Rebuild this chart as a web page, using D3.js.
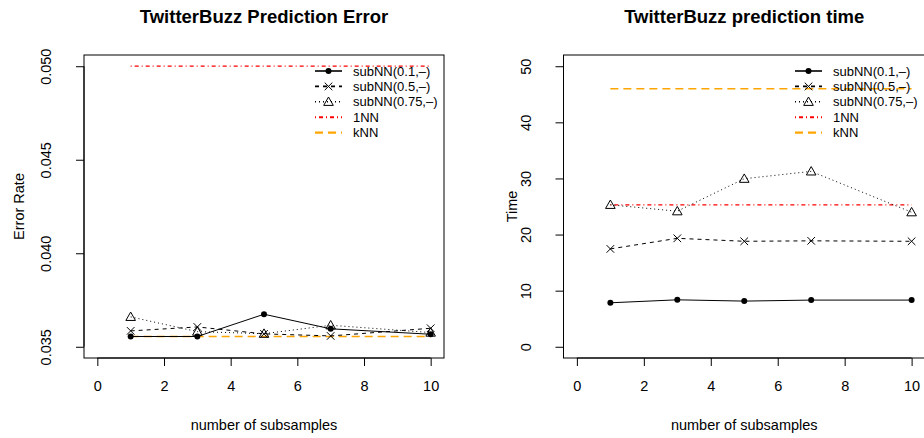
<!DOCTYPE html>
<html>
<head>
<meta charset="utf-8">
<script src="https://cdn.jsdelivr.net/npm/d3@7"></script>
<style>
  body { margin: 0; background: #fff; }
  text { font-family: "Liberation Sans", Arial, sans-serif; fill: #000; }
</style>
</head>
<body>
<div id="chart"></div>
<script>
// values
const subsamples = [1, 3, 5, 7, 10];
const xTicks = [0, 2, 4, 6, 8, 10];

const errSub01 = [0.03555, 0.03555, 0.03674, 0.03596, 0.03567];
const errSub05 = [0.03585, 0.03606, 0.03569, 0.03558, 0.03599];
const errSub075 = [0.03660, 0.03581, 0.03570, 0.03615, 0.03576];
const err1NN = [0.050, 0.050, 0.050, 0.050, 0.050];
const errKNN = [0.03555, 0.03555, 0.03555, 0.03555, 0.03555];
const errTicks = [0.035, 0.040, 0.045, 0.050];

const timeSub01 = [7.84, 8.37, 8.14, 8.32, 8.32];
const timeSub05 = [17.44, 19.33, 18.80, 18.88, 18.80];
const timeSub075 = [25.3, 24.16, 29.95, 31.26, 23.98];
const time1NN = [25.3, 25.3, 25.3, 25.3, 25.3];
const timeKNN = [46.0, 46.0, 46.0, 46.0, 46.0];
const timeTicks = [0, 10, 20, 30, 40, 50];

const legendLabels = ["subNN(0.1,\u2013)", "subNN(0.5,\u2013)", "subNN(0.75,\u2013)", "1NN", "kNN"];

const svg = d3.select("#chart")
    .append("svg")
    .attr("width", 924)
    .attr("height", 438);

// line styles, one per series (same order as legend)
const styles = [
    { color: "#000", dash: null, width: 1, mark: "circle" },
    { color: "#000", dash: "4,4", width: 1, mark: "cross" },
    { color: "#000", dash: "1,3", width: 1, mark: "triangle" },
    { color: "#ff0000", dash: "1,3,4,3", width: 1.3, mark: null },
    { color: "#ffa500", dash: "8,5", width: 1.5, mark: null }
];

function drawMark(g, type, x, y) {
    if (type === "circle") {
        g.append("circle").attr("cx", x).attr("cy", y).attr("r", 3)
            .attr("fill", "#000");
    } else if (type === "cross") {
        const s = 3.8;
        g.append("path")
            .attr("d", `M${x - s},${y - s}L${x + s},${y + s}M${x - s},${y + s}L${x + s},${y - s}`)
            .attr("stroke", "#000").attr("stroke-width", 1).attr("fill", "none");
    } else if (type === "triangle") {
        const s = 4.8;
        g.append("path")
            .attr("d", `M${x},${y - s}L${x + s},${y + s * 0.75}L${x - s},${y + s * 0.75}Z`)
            .attr("stroke", "#000").attr("stroke-width", 1).attr("fill", "none");
    }
}

function drawPanel(opt) {
    const left = opt.left, right = opt.right, top = 55, bottom = 358;
    const x = d3.scaleLinear().domain([-0.4, 10.4]).range([left, right]);
    const span = opt.ylim[1] - opt.ylim[0];
    const y = d3.scaleLinear()
        .domain([opt.ylim[0] - 0.04 * span, opt.ylim[1] + 0.04 * span])
        .range([bottom, top]);

    const g = svg.append("g");

    const line = d3.line().x((d, i) => x(subsamples[i])).y((d) => y(d));
    // reference lines first, then subNN
    [3, 4, 0, 1, 2].forEach((k) => {
        const st = styles[k];
        g.append("path")
            .attr("d", line(opt.series[k]))
            .attr("fill", "none")
            .attr("stroke", st.color)
            .attr("stroke-width", st.width)
            .attr("stroke-dasharray", st.dash);
        if (st.mark) {
            opt.series[k].forEach((d, i) => drawMark(g, st.mark, x(subsamples[i]), y(d)));
        }
    });

    // box
    g.append("rect")
        .attr("x", left).attr("y", top)
        .attr("width", right - left).attr("height", bottom - top)
        .attr("fill", "none").attr("stroke", "#000").attr("stroke-width", 1);

    // x axis
    const xAxis = d3.axisBottom(x).tickValues(xTicks).tickSize(8).tickPadding(15)
        .tickFormat(d3.format("d"));
    const gx = g.append("g").attr("transform", `translate(0,${bottom})`).call(xAxis);
    gx.select(".domain").attr("d", `M${x(0)},0H${x(10)}`);
    gx.selectAll("text").style("font-size", "14.5px").style("font-family", "Liberation Sans, Arial, sans-serif");

    // y axis
    const yAxis = d3.axisLeft(y).tickValues(opt.yTicks).tickSize(8).tickFormat(opt.yFormat);
    const gy = g.append("g").attr("transform", `translate(${left},0)`).call(yAxis);
    gy.select(".domain").attr("d", `M0,${y(opt.yTicks[0])}V${y(opt.yTicks[opt.yTicks.length - 1])}`);
    gy.selectAll(".tick text")
        .attr("x", null).attr("dy", null)
        .attr("transform", "translate(-33,0) rotate(-90)")
        .attr("text-anchor", "middle")
        .style("font-size", "14.5px").style("font-family", "Liberation Sans, Arial, sans-serif");

    // titles
    g.append("text")
        .attr("x", (left + right) / 2).attr("y", 23)
        .attr("text-anchor", "middle")
        .style("font-size", "18.5px").style("font-weight", "bold")
        .text(opt.title);
    g.append("text")
        .attr("x", (left + right) / 2).attr("y", 430)
        .attr("text-anchor", "middle").style("font-size", "14.5px")
        .text("number of subsamples");
    g.append("text")
        .attr("transform", `translate(${left - opt.ylabelOffset},${(top + bottom) / 2}) rotate(-90)`)
        .attr("text-anchor", "middle").style("font-size", "14.5px")
        .text(opt.ylabel);

    // legend (no box)
    const lg = g.append("g");
    legendLabels.forEach((lab, k) => {
        const st = styles[k];
        const ly = 71 + k * 15.4;
        lg.append("line")
            .attr("x1", opt.legendX).attr("x2", opt.legendX + 27)
            .attr("y1", ly).attr("y2", ly)
            .attr("stroke", st.color).attr("stroke-width", st.width + 0.6)
            .attr("stroke-dasharray", st.dash);
        if (st.mark) drawMark(lg, st.mark, opt.legendX + 13.5, ly);
        lg.append("text")
            .attr("x", opt.legendX + 38).attr("y", ly + 4.5)
            .style("font-size", "13px")
            .text(lab);
    });
}

drawPanel({
    left: 84, right: 444,
    ylim: [0.035, 0.050],
    yTicks: errTicks, yFormat: d3.format(".3f"),
    series: [errSub01, errSub05, errSub075, err1NN, errKNN],
    title: "TwitterBuzz Prediction Error", ylabel: "Error Rate", ylabelOffset: 60,
    legendX: 315
});

drawPanel({
    left: 563.5, right: 925,
    ylim: [0, 50],
    yTicks: timeTicks, yFormat: d3.format("d"),
    series: [timeSub01, timeSub05, timeSub075, time1NN, timeKNN],
    title: "TwitterBuzz prediction time", ylabel: "Time", ylabelOffset: 47,
    legendX: 795
});
</script>
</body>
</html>
